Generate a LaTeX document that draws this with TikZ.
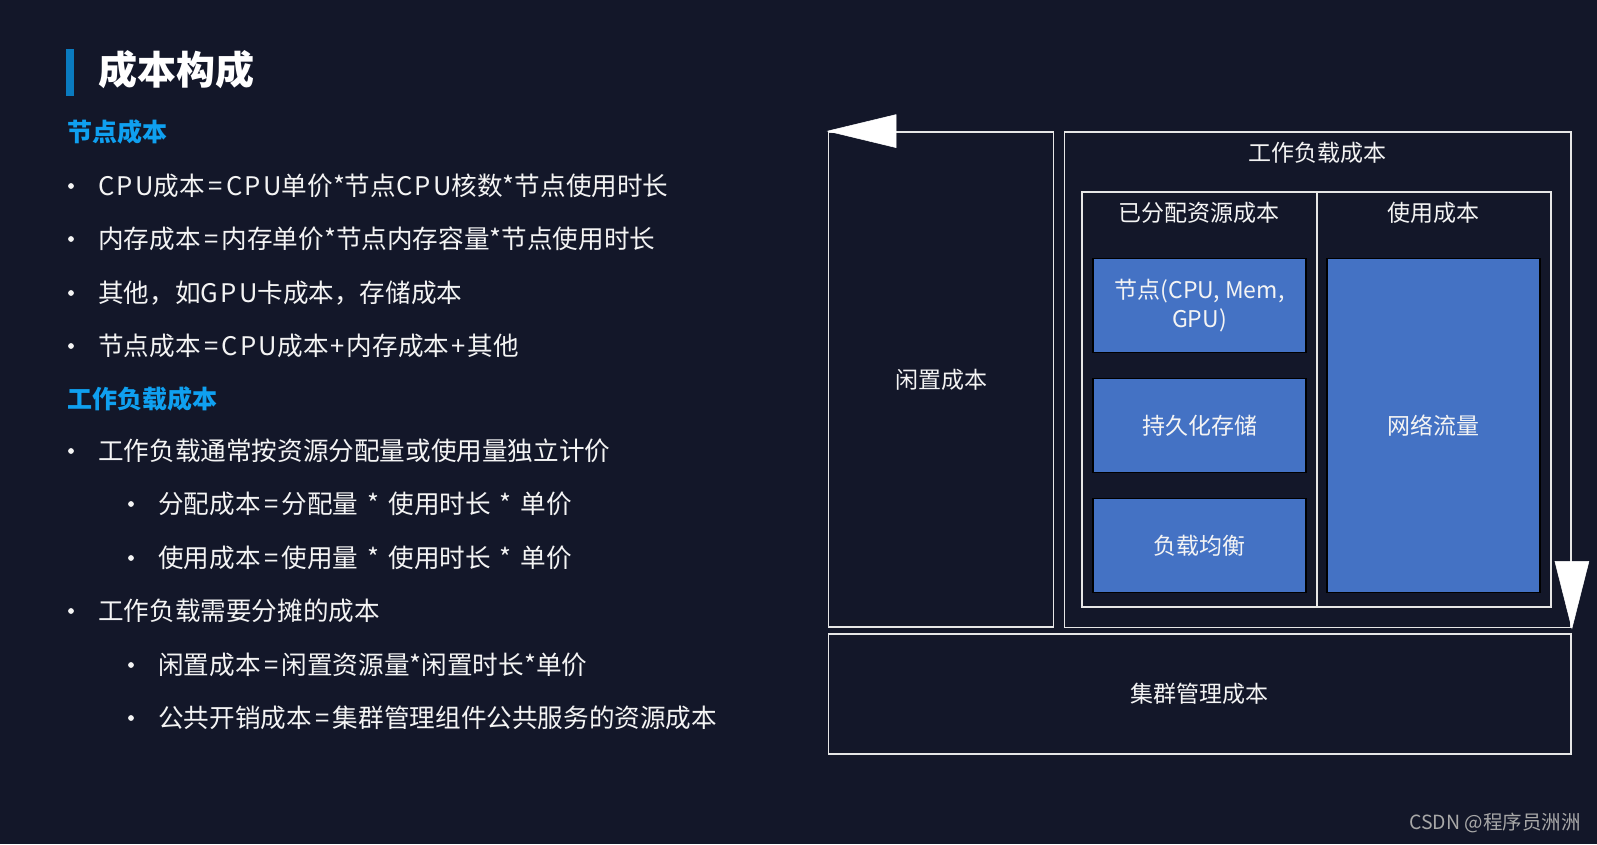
\documentclass[tikz,border=0pt]{standalone}
\usepackage{fontspec}
\setmainfont{Noto Sans CJK SC}
\definecolor{bg}{HTML}{131729}
\definecolor{barblue}{HTML}{0A7BBF}
\definecolor{headblue}{HTML}{0FA0F0}
\definecolor{txt}{HTML}{F4F4F4}
\definecolor{linec}{HTML}{E6E6E6}
\definecolor{boxblue}{HTML}{4472C4}
\definecolor{wmgray}{HTML}{A8A8A8}
\newcommand\lsp[1]{{\addfontfeature{LetterSpace=9}#1}}
\newcommand\eqs{\hspace{3.5pt}=\hspace{3.5pt}}
\newcommand\pls{\hspace{2pt}+\hspace{2pt}}
\newcommand\sts{\hspace{9pt}*\hspace{9pt}}
\begin{document}
\begin{tikzpicture}[x=1pt,y=-1pt,
  bodytxt/.style={anchor=west, inner sep=0, text=txt, font=\fontsize{25.6}{30}\selectfont, text height=22.5pt, text depth=3.1pt},
  headtxt/.style={anchor=west, inner sep=0, text=headblue, font=\fontsize{25}{30}\selectfont\bfseries, text height=22pt, text depth=3pt},
  bul/.style={circle, fill=txt, inner sep=0, minimum size=5.8pt},
  frame/.style={draw=linec, line width=1.8pt, inner sep=0, text=txt, font=\fontsize{23}{28.5}\selectfont, align=center},
  lbl/.style={inner sep=0, text=txt, font=\fontsize{23}{28.5}\selectfont, align=center, text height=20.2pt, text depth=2.8pt},
  bluebox/.style={draw=black, line width=1.5pt, fill=boxblue, inner sep=0, minimum width=213pt, text=txt, font=\fontsize{23}{28.5}\selectfont, align=center},
  tri/.style={fill=white, draw=white, line width=0.5pt}]
\useasboundingbox (0,0) rectangle (1597,844);
\fill[bg] (0,0) rectangle (1597,844);
% title
\fill[barblue] (66,49) rectangle (74,96);
\node[anchor=west, inner sep=0, text=white, font=\fontsize{39}{44}\selectfont\bfseries, text height=34.3pt, text depth=4.7pt] (title) at (98,70) {成本构成};
% headings
\node[headtxt] (h1) at (67,132) {节点成本};
\node[headtxt] (h2) at (67,399) {工作负载成本};
% bullets
\foreach \y/\nm in {186/b1,239/b2,293/b3,346/b4,451/b5,611/b8}{
  \node[bul] (\nm) at (71,\y) {};
}
\foreach \y/\nm in {504/b6,558/b7,665/b9,718/b10}{
  \node[bul] (\nm) at (131,\y) {};
}
\node[bodytxt] (t1) at (98,186) {\lsp{CPU}成本\eqs\lsp{CPU}单价*节点\lsp{CPU}核数*节点使用时长};
\node[bodytxt] (t2) at (98,239) {内存成本\eqs 内存单价*节点内存容量*节点使用时长};
\node[bodytxt] (t3) at (98,293) {其他，如\lsp{GPU}卡成本，存储成本};
\node[bodytxt] (t4) at (98,346) {节点成本\eqs\lsp{CPU}成本\pls 内存成本\pls 其他};
\node[bodytxt] (t5) at (98,451) {工作负载通常按资源分配量或使用量独立计价};
\node[bodytxt] (t6) at (158,504) {分配成本\eqs 分配量\sts 使用时长\sts 单价};
\node[bodytxt] (t7) at (158,558) {使用成本\eqs 使用量\sts 使用时长\sts 单价};
\node[bodytxt] (t8) at (98,611) {工作负载需要分摊的成本};
\node[bodytxt] (t9) at (158,665) {闲置成本\eqs 闲置资源量*闲置时长*单价};
\node[bodytxt] (t10) at (158,718) {公共开销成本\eqs 集群管理组件公共服务的资源成本};
% diagram frames
\node[frame, minimum width=225pt, minimum height=495pt] (idle) at (941,379.5) {闲置成本};
\node[frame, minimum width=506.5pt, minimum height=495.5pt] (work) at (1317.75,379.75) {};
\node[lbl] (worklbl) at (1317.5,153) {工作负载成本};
\node[frame, minimum width=234.7pt, minimum height=415pt] (alloc) at (1199.35,399.5) {};
\node[frame, minimum width=234.3pt, minimum height=415pt] (usage) at (1433.85,399.5) {};
\node[lbl] (alloclbl) at (1199.3,213) {已分配资源成本};
\node[lbl] (usagelbl) at (1433.8,213) {使用成本};
\node[bluebox, minimum height=94pt] (nodebox) at (1199.5,305.5) {节点(CPU, Mem,\\GPU)};
\node[bluebox, minimum height=94pt] (storbox) at (1199.5,425.7) {持久化存储};
\node[bluebox, minimum height=94pt] (lbbox) at (1199.5,545.4) {负载均衡};
\node[bluebox, minimum height=334pt] (netbox) at (1433.4,425.7) {网络流量};
\node[frame, minimum width=742.5pt, minimum height=120pt] (cluster) at (1199.75,694) {集群管理成本};
% arrows
\draw[tri] (idle.north west) -- ++(68.5,-16.5) -- ++(0,33) -- cycle;
\draw[tri] (work.south east) -- ++(-17,-67) -- ++(34,0) -- cycle;
% watermark
\node[anchor=east, inner sep=0, text=wmgray, font=\fontsize{19.5}{23}\selectfont] (wm) at (1581,823) {CSDN @程序员洲洲};
\end{tikzpicture}
\end{document}
